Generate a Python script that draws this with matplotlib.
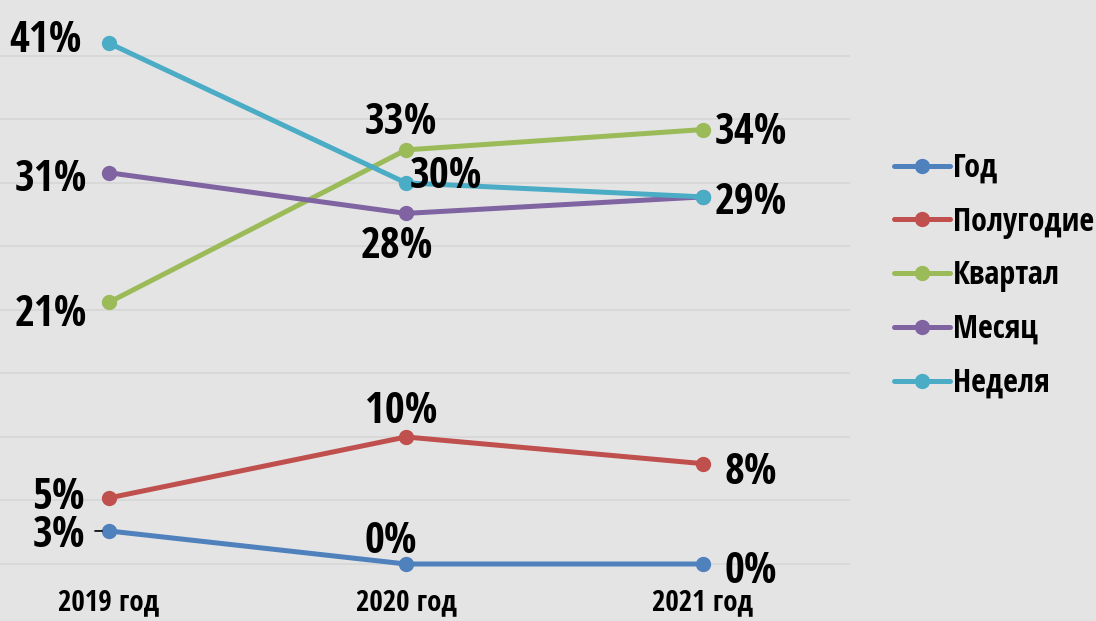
import matplotlib.pyplot as plt

years = ["2019 год", "2020 год", "2021 год"]
series_names = ["Год", "Полугодие", "Квартал", "Месяц", "Неделя"]
god = [2.6, 0.0, 0.0]
polugodie = [5.2, 10.0, 7.9]
kvartal = [20.6, 32.6, 34.2]
mesyac = [30.8, 27.6, 28.9]
nedelya = [41.0, 30.0, 28.9]
labels_text = {
    "Год": ["3%", "0%", "0%"],
    "Полугодие": ["5%", "10%", "8%"],
    "Квартал": ["21%", "33%", "34%"],
    "Месяц": ["31%", "28%", ""],
    "Неделя": ["41%", "30%", "29%"],
}

colors = ["#4F81BD", "#C0504D", "#9BBB59", "#8064A2", "#4BACC6"]
bg = "#E4E4E4"

plt.rcParams['font.family'] = ['Open Sans Condensed', 'Liberation Sans', 'DejaVu Sans']
plt.rcParams['font.weight'] = 'bold'

fig = plt.figure(figsize=(10.96, 6.21), dpi=100, facecolor=bg)
ax = fig.add_axes([0, 41 / 621, 850 / 1096, 580 / 621])
ax.set_facecolor(bg)

x = list(range(len(years)))
all_series = [god, polugodie, kvartal, mesyac, nedelya]
for name, vals, c in zip(series_names, all_series, colors):
    ax.plot(x, vals, color=c, lw=3.6, marker='o', markersize=10,
            solid_capstyle='round', label=name, zorder=3)

# label offsets in pixels (dx, dy, ha)
offsets = {
    "Год": [(-24, 0, 'right'), (-15, 27, 'center'), (22, -3, 'left')],
    "Полугодие": [(-24, 5, 'right'), (-5, 30, 'center'), (22, -4, 'left')],
    "Квартал": [(-22, -7, 'right'), (-5, 32, 'center'), (12, 2, 'left')],
    "Месяц": [(-22, -2, 'right'), (-9, -28, 'center'), (12, 0, 'left')],
    "Неделя": [(-27, 8, 'right'), (4, 11, 'left'), (12, -1, 'left')],
}

for name, vals in zip(series_names, all_series):
    for i, v in enumerate(vals):
        if not labels_text[name][i]:
            continue
        dx, dy, ha = offsets[name][i]
        ax.annotate(labels_text[name][i], (i, v), xytext=(dx, dy),
                    textcoords='offset pixels', ha=ha, va='center_baseline',
                    fontsize=31, fontweight='bold', color='black', zorder=5)

# small leader line for the 3% label
ax.annotate("", (0, god[0]), xytext=(-14, 0), textcoords='offset pixels',
            arrowprops=dict(arrowstyle='-', color='black', lw=1.2,
                            shrinkA=0, shrinkB=5))

ax.set_xlim(-0.367, 2.495)
ax.set_ylim(-1.26, 44.4)
ax.set_yticks(range(0, 41, 5))
ax.set_yticklabels([])
ax.set_xticks(x)
ax.set_xticklabels(years, fontsize=21, fontweight='bold')
ax.tick_params(axis='both', length=0)
ax.tick_params(axis='x', pad=6)
ax.grid(axis='y', color='#D6D6D6', lw=1.2)
for s in ax.spines.values():
    s.set_visible(False)

leg = fig.legend(loc='upper left', bbox_to_anchor=(881 / 1096, 1 - 139 / 621),
                 frameon=False, fontsize=23, handlelength=1.75,
                 handletextpad=0.1, labelspacing=0.65, borderaxespad=0)
for t in leg.get_texts():
    t.set_fontweight('bold')

fig.savefig("out.png", dpi=100, facecolor=bg)
